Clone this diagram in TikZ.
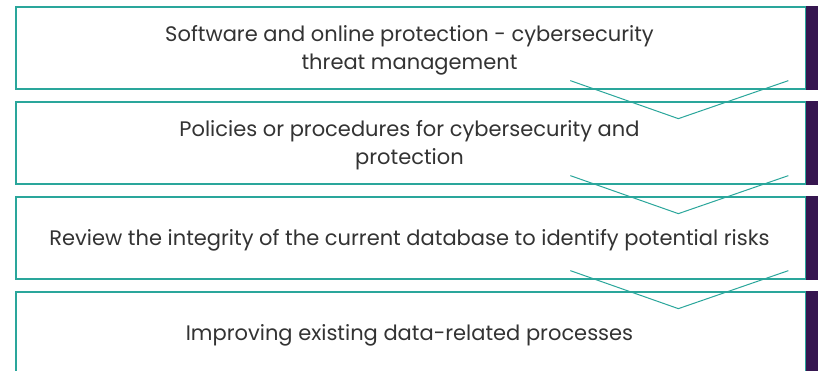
\documentclass[tikz,border=0pt]{standalone}
\usepackage{fontspec}
\setmainfont{Poppins}
\usetikzlibrary{calc}
\definecolor{teal1}{HTML}{2AA69B}
\definecolor{bar1}{HTML}{361650}
\definecolor{txt1}{HTML}{333333}
\tikzset{
  stepbox/.style={draw=teal1, line width=1.3pt, fill=white, minimum width=790pt, minimum height=82pt,
    inner sep=0pt},
  steptext/.style={inner sep=0pt, align=center, text=txt1, font=\fontsize{21}{28}\selectfont},
  sidebar/.style={fill=bar1},
  chev/.style={draw=teal1, line width=1pt}
}
\begin{document}
\begin{tikzpicture}[x=1pt,y=1pt]
\useasboundingbox (0,0) rectangle (818,371);
\clip (0,0) rectangle (818,371);
\fill[white] (0,0) rectangle (818,371);
\node[stepbox] (b1) at (411,323) {};
\node[stepbox] (b2) at (411,228) {};
\node[stepbox] (b3) at (411,133) {};
\node[stepbox] (b4) at (411,38) {};
\foreach \nm in {b1,b2,b3,b4}{
  \coordinate (\nm bt) at ($(\nm.north east)+(-0.6,0)$);
  \coordinate (\nm bb) at ($(\nm.south east)+(20,0)$);
  \fill[sidebar] (\nm bt) rectangle (\nm bb);
}
\node[steptext] (t1) at ($(b1.center)+(-1.5,-2.5)$) {Software and online protection - cybersecurity\\threat management};
\node[steptext] (t2) at ($(b2.center)+(-1.5,-2.5)$) {Policies or procedures for cybersecurity and\\protection};
\node[steptext] (t3) at ($(b3.center)+(-1.5,-2.5)$) {Review the integrity of the current database to identify potential risks};
\node[steptext] (t4) at ($(b4.center)+(-1.5,-2.5)$) {Improving existing data-related processes};
\foreach \nm in {b1,b2,b3}{
  \coordinate (\nm l) at ($(\nm.south west)+(555,9)$);
  \coordinate (\nm t) at ($(\nm.south west)+(663,-29)$);
  \coordinate (\nm r) at ($(\nm.south west)+(773,9)$);
  \draw[chev] (\nm l) -- (\nm t) -- (\nm r);
}
\end{tikzpicture}
\end{document}
